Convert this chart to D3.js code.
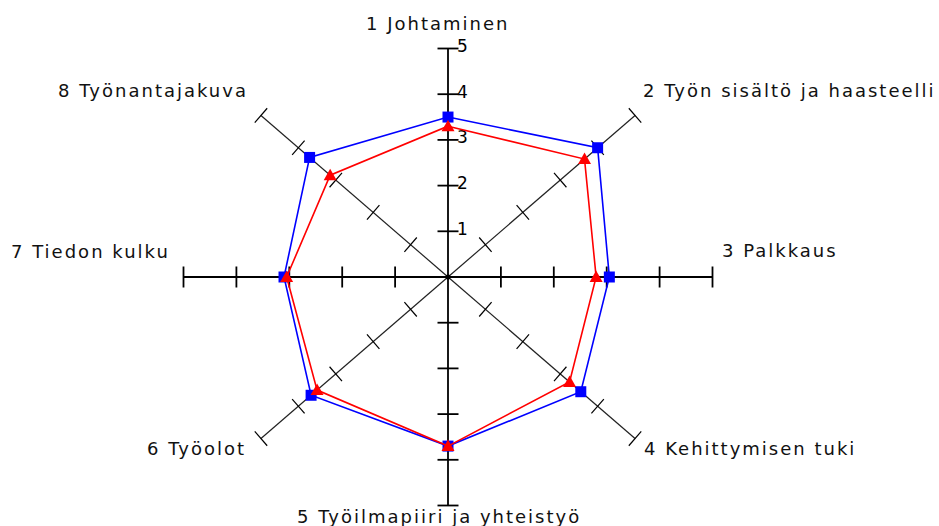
<!DOCTYPE html>
<html>
<head>
<meta charset="utf-8">
<script src="https://cdn.jsdelivr.net/npm/d3@7"></script>
<style>
  body { margin: 0; background: #fff; }
  svg { display: block; }
</style>
</head>
<body>
<script>
// axis names, clockwise from the top
var categories = ["1 Johtaminen", "2 Työn sisältö ja haasteelli", "3 Palkkaus", "4 Kehittymisen tuki",
                  "5 Työilmapiiri ja yhteistyö", "6 Työolot", "7 Tiedon kulku", "8 Työnantajakuva"];
var blueValues = [3.5, 4.0, 3.05, 3.55, 3.7, 3.66, 3.1, 3.7];
var redValues  = [3.3, 3.65, 2.8, 3.25, 3.7, 3.5, 3.05, 3.15];
var tickValues = [1, 2, 3, 4, 5];

var svgWidth = 939;
var svgHeight = 526;
var cx = 448, cy = 277;

// the picture is stretched wider than tall
var rx = d3.scaleLinear().domain([0, 5]).range([0, 264.5]);
var ry = d3.scaleLinear().domain([0, 5]).range([0, 228.5]);

function angle(i) { return i * Math.PI / 4; }
function px(i, v) { return cx + rx(v) * Math.sin(angle(i)); }
function py(i, v) { return cy - ry(v) * Math.cos(angle(i)); }

var svg = d3.select("body").append("svg")
  .attr("width", svgWidth)
  .attr("height", svgHeight);

// axes
var axes = svg.append("g");
categories.forEach(function (c, i) {
  var straight = (i % 2 == 0);
  axes.append("line")
    .attr("x1", cx).attr("y1", cy)
    .attr("x2", px(i, 5)).attr("y2", py(i, 5))
    .attr("stroke", straight ? "#000" : "#222")
    .attr("stroke-width", straight ? 1.8 : 1.2);

  tickValues.forEach(function (t) {
    var x = px(i, t), y = py(i, t);
    // direction of axis on screen, ticks perpendicular
    var dx = px(i, 5) - cx, dy = py(i, 5) - cy;
    var len = Math.sqrt(dx * dx + dy * dy);
    var nx = -dy / len, ny = dx / len;
    var h = straight ? 10.5 : 9.5;
    axes.append("line")
      .attr("x1", x - nx * h).attr("y1", y - ny * h)
      .attr("x2", x + nx * h).attr("y2", y + ny * h)
      .attr("stroke", "#000")
      .attr("stroke-width", straight ? 1.8 : 1.2);
  });
});

axes.append("circle").attr("cx", cx).attr("cy", cy).attr("r", 2.5).attr("fill", "#000");

// tick labels on the top axis
svg.append("g").selectAll("text")
  .data(tickValues)
  .enter().append("text")
  .attr("x", cx + 9)
  .attr("y", function (d) { return py(0, d) + 3.5; })
  .attr("font-family", "DejaVu Sans")
  .attr("font-size", 17)
  .attr("fill", "#000")
  .text(function (d) { return d; });

// category labels
var labelPos = [[366, 30], [643, 97], [722, 257], [644, 455], [297, 523], [147, 455], [11, 258], [58, 97]];
svg.append("g").selectAll("text")
  .data(categories)
  .enter().append("text")
  .attr("x", function (d, i) { return labelPos[i][0]; })
  .attr("y", function (d, i) { return labelPos[i][1]; })
  .attr("font-family", "DejaVu Sans")
  .attr("font-size", 18)
  .attr("letter-spacing", 2)
  .attr("fill", "#111")
  .text(function (d) { return d; });

// series
function drawSeries(values, color, shape) {
  var pts = values.map(function (v, i) { return [px(i, v), py(i, v)]; });
  svg.append("path")
    .attr("d", d3.line().curve(d3.curveLinearClosed)(pts))
    .attr("fill", "none")
    .attr("stroke", color)
    .attr("stroke-width", 1.6);
  svg.append("g").selectAll("path")
    .data(pts)
    .enter().append("path")
    .attr("transform", function (d) { return "translate(" + d[0] + "," + d[1] + ")"; })
    .attr("d", shape == "square" ? "M-5.5,-5.5H5.5V5.5H-5.5Z" : "M0,-6.5L6.5,5L-6.5,5Z")
    .attr("fill", color);
}

drawSeries(blueValues, "#0000ff", "square");
drawSeries(redValues, "#ff0000", "triangle");
</script>
</body>
</html>
